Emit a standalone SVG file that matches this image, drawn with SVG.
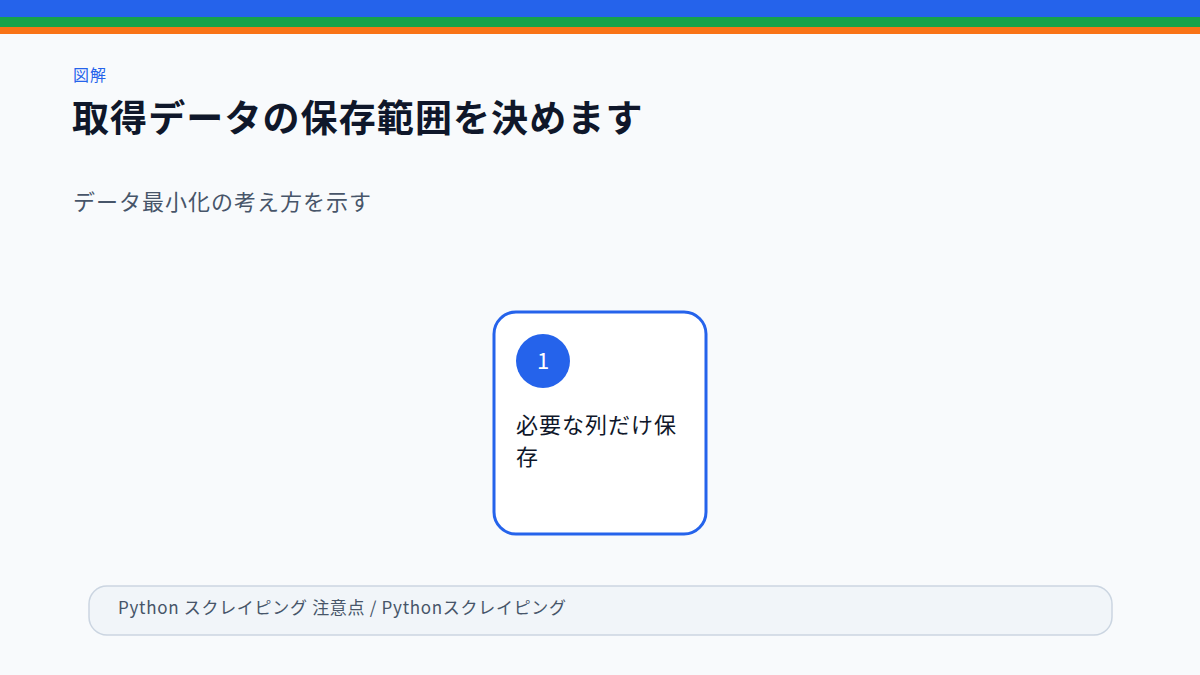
<svg xmlns="http://www.w3.org/2000/svg" width="1200" height="675" viewBox="0 0 1200 675">
<style>
.jp{font-family:"Noto Sans CJK JP","Noto Sans",sans-serif}
.card{fill:#ffffff;stroke:#2563eb;stroke-width:3}
</style>
<rect width="1200" height="675" fill="#f8fafc"/>
<rect x="0" y="0" width="1200" height="17" fill="#2563eb"/>
<rect x="0" y="17" width="1200" height="10" fill="#16a34a"/>
<rect x="0" y="27" width="1200" height="7" fill="#f97316"/>
<text class="jp" x="73" y="81" font-size="16" fill="#2563eb" letter-spacing="1">図解</text>
<text class="jp" x="72" y="132" font-size="37" font-weight="700" fill="#0f172a" letter-spacing="1.1">取得データの保存範囲を決めます</text>
<text class="jp" x="73" y="210" font-size="22" fill="#475569" letter-spacing="1">データ最小化の考え方を示す</text>
<g id="node-1">
<rect class="card" x="494" y="312" width="212" height="222" rx="22"/>
<circle cx="543" cy="361" r="27" fill="#2563eb"/>
<text class="jp" x="543" y="369" font-size="22" fill="#ffffff" text-anchor="middle">1</text>
<text class="jp" x="516" y="433" font-size="22" fill="#0f172a" letter-spacing="1">必要な列だけ保</text>
<text class="jp" x="516" y="465" font-size="22" fill="#0f172a">存</text>
</g>
<g id="connectors"></g>
<g id="footer">
<rect x="89" y="586" width="1023" height="49" rx="18" fill="#f1f5f9" stroke="#cbd5e1" stroke-width="1.5"/>
<text class="jp" x="118" y="614" font-size="17" fill="#475569" letter-spacing="0.7">Python スクレイピング 注意点 / Pythonスクレイピング</text>
</g>
</svg>
